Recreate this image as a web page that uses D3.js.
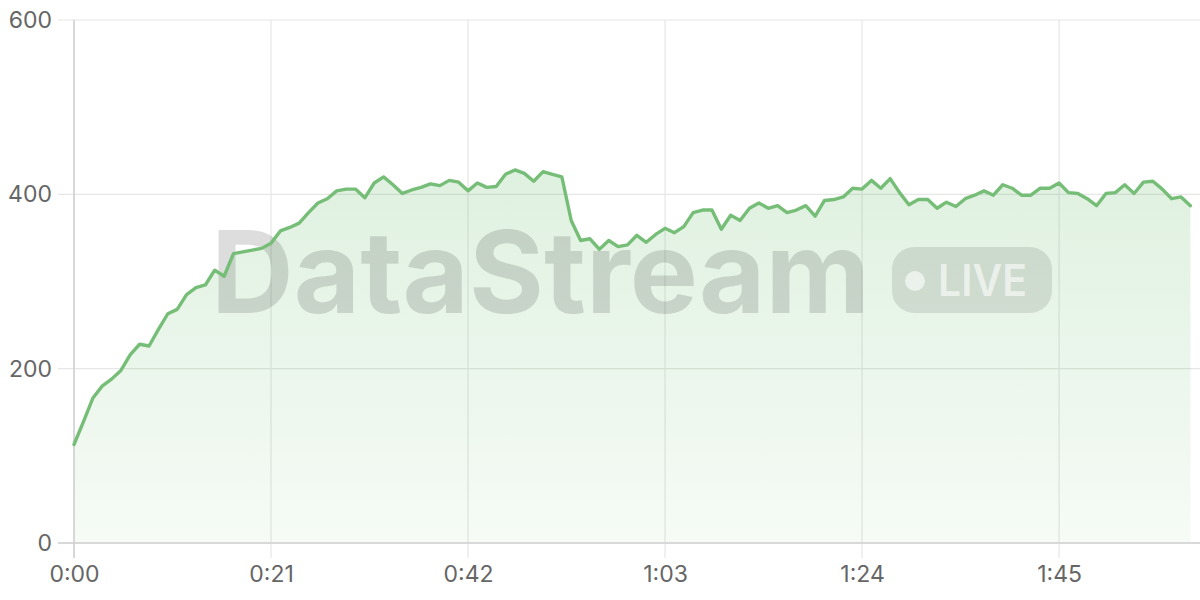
<!DOCTYPE html>
<html>
<head>
<meta charset="utf-8">
<script src="https://cdn.jsdelivr.net/npm/d3@7"></script>
<style>
  html, body { margin: 0; padding: 0; background: #fff; }
  svg { display: block; }
</style>
</head>
<body>
<svg id="chart" width="1200" height="600"></svg>
<script>
// seconds since start
const seconds = d3.range(0, 120);
// streamed values, one per second
const values = [
  113, 139, 166, 180, 188, 198, 216, 228, 226, 245,
  263, 268, 285, 293, 296, 313, 306, 332, 334, 336,
  338, 344, 358, 362, 367, 379, 390, 395, 404, 406,
  406, 396, 413, 420, 411, 401, 405, 408, 412, 410,
  416, 414, 404, 413, 408, 409, 423, 428, 424, 415,
  426, 423, 420, 370, 347, 349, 337, 347, 340, 342,
  353, 345, 354, 361, 356, 363, 379, 382, 382, 360,
  376, 370, 384, 390, 384, 387, 379, 382, 387, 375,
  393, 394, 397, 407, 406, 416, 407, 418, 402, 388,
  394, 394, 384, 391, 386, 395, 399, 404, 399, 411,
  407, 399, 399, 407, 407, 413, 402, 401, 395, 387,
  401, 402, 411, 401, 414, 415, 406, 395, 397, 387
];
const xTicks = [0, 21, 42, 63, 84, 105];
const xTickLabels = ["0:00", "0:21", "0:42", "1:03", "1:24", "1:45"];
const yTicks = [0, 200, 400, 600];
const watermarkText = "DataStream";
const badgeText = "LIVE";

const data = seconds.map((s, i) => ({ s, v: values[i] }));

const svg = d3.select("#chart");
const x = d3.scaleLinear().domain([0, 119]).range([74, 1190.4]);
const y = d3.scaleLinear().domain([0, 600]).range([543, 20]);

const font = "Inter, 'Noto Sans', sans-serif";

// gradient
const defs = svg.append("defs");
const grad = defs.append("linearGradient")
  .attr("id", "areaGrad")
  .attr("gradientUnits", "userSpaceOnUse")
  .attr("x1", 0).attr("x2", 0).attr("y1", y(430)).attr("y2", y(0));
grad.append("stop").attr("offset", "0%").attr("stop-color", "#4caf50").attr("stop-opacity", 0.18);
grad.append("stop").attr("offset", "100%").attr("stop-color", "#4caf50").attr("stop-opacity", 0.05);

// grid lines
const grid = svg.append("g");
grid.selectAll("line.h").data(yTicks).join("line")
  .attr("x1", 58).attr("x2", 1200)
  .attr("y1", d => y(d)).attr("y2", d => y(d))
  .attr("stroke", "#e6e6e6").attr("stroke-width", 1.2);
grid.selectAll("line.v").data(xTicks).join("line")
  .attr("x1", d => x(d)).attr("x2", d => x(d))
  .attr("y1", y(600)).attr("y2", 558)
  .attr("stroke", "#e6e6e6").attr("stroke-width", 1.2);

// area
svg.append("path").datum(data)
  .attr("d", d3.area().x(d => x(d.s)).y0(y(0)).y1(d => y(d.v)))
  .attr("fill", "url(#areaGrad)");

// axis lines
svg.append("line").attr("x1", x(0)).attr("x2", x(0)).attr("y1", y(600)).attr("y2", 558)
  .attr("stroke", "#d0d0d0").attr("stroke-width", 1.5);
svg.append("line").attr("x1", 58).attr("x2", 1200).attr("y1", y(0)).attr("y2", y(0))
  .attr("stroke", "#d0d0d0").attr("stroke-width", 1.5);

// watermark
const wm = svg.append("g");
wm.append("text")
  .attr("x", 211).attr("y", 313)
  .attr("textLength", 659).attr("lengthAdjust", "spacingAndGlyphs")
  .attr("font-family", font).attr("font-weight", 700).attr("font-size", 114)
  .attr("fill", "rgba(0,0,0,0.135)")
  .text(watermarkText);
wm.append("rect")
  .attr("x", 892).attr("y", 247).attr("width", 160).attr("height", 66).attr("rx", 22)
  .attr("fill", "rgba(0,0,0,0.1)");
wm.append("circle").attr("cx", 915).attr("cy", 281).attr("r", 10)
  .attr("fill", "rgba(255,255,255,0.6)");
wm.append("text")
  .attr("x", 938).attr("y", 296)
  .attr("textLength", 89).attr("lengthAdjust", "spacingAndGlyphs")
  .attr("font-family", font).attr("font-weight", 600).attr("font-size", 44)
  .attr("fill", "rgba(255,255,255,0.6)")
  .text(badgeText);

// line
svg.append("path").datum(data)
  .attr("d", d3.line().x(d => x(d.s)).y(d => y(d.v)))
  .attr("fill", "none").attr("stroke", "#76be78").attr("stroke-width", 3.4)
  .attr("stroke-linejoin", "round").attr("stroke-linecap", "round");

// axes labels
const yAxis = svg.append("g").attr("transform", "translate(52,0)")
  .call(d3.axisLeft(y).tickValues(yTicks).tickSize(0).tickPadding(0));
yAxis.select(".domain").remove();
yAxis.selectAll("text").attr("font-family", font).attr("font-size", 23).attr("fill", "#666");

const xAxis = svg.append("g").attr("transform", "translate(0,566)")
  .call(d3.axisBottom(x).tickValues(xTicks).tickFormat((d, i) => xTickLabels[i]).tickSize(0).tickPadding(0));
xAxis.select(".domain").remove();
xAxis.selectAll("text").attr("font-family", font).attr("font-size", 23).attr("fill", "#666");
</script>
</body>
</html>
